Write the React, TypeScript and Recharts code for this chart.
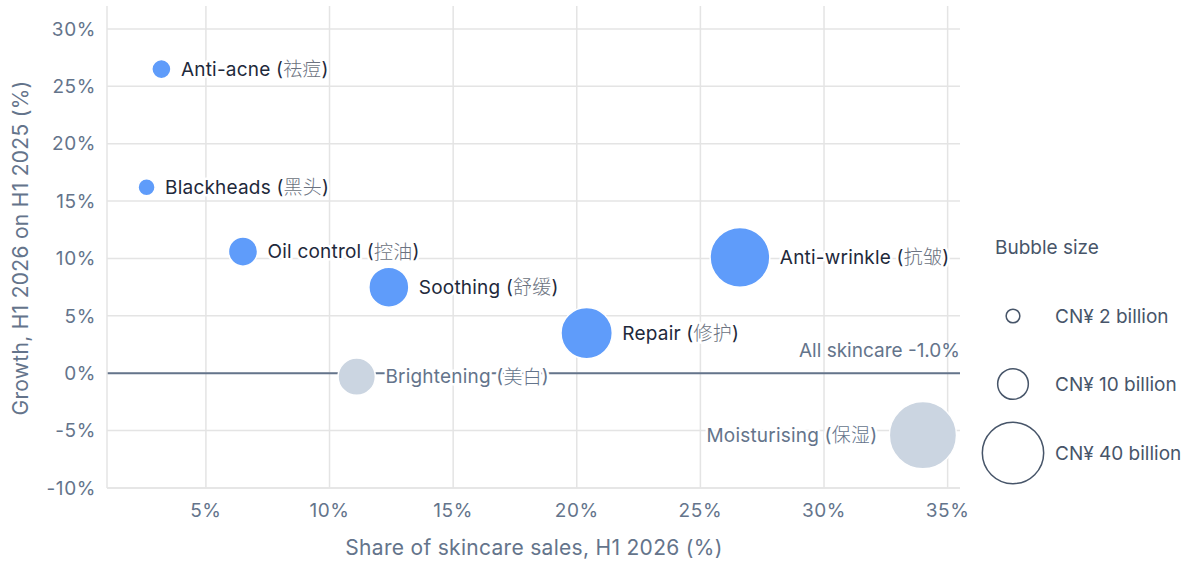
import React from 'react';
import {
  ScatterChart,
  Scatter,
  XAxis,
  YAxis,
  ZAxis,
  CartesianGrid,
  ReferenceLine,
} from 'recharts';

// ---- data ----
const categories = ['Anti-acne', 'Blackheads', 'Oil control', 'Soothing', 'Repair', 'Anti-wrinkle', 'Brightening', 'Moisturising'];
const chineseNames = ['祛痘', '黑头', '控油', '舒缓', '修护', '抗皱', '美白', '保湿'];
const shareH1_2026 = [3.2, 2.6, 6.5, 12.4, 20.4, 26.6, 11.1, 34.0];
const growthVsH1_2025 = [26.5, 16.2, 10.6, 7.5, 3.5, 10.1, -0.3, -5.4];
const salesBillionCNY = [3.9, 3.1, 9.0, 17.0, 28.0, 38.0, 14.8, 48.0];
const highlighted = [true, true, true, true, true, true, false, false];
const labelOnLeft = [false, false, false, false, false, false, false, true];

const xTicks = [5, 10, 15, 20, 25, 30, 35];
const yTicks = [-10, -5, 0, 5, 10, 15, 20, 25, 30];
const allSkincareLabel = 'All skincare -1.0%';
const allSkincareLineY = 0;
const legendValues = [2, 10, 40];
const legendLabels = ['CN¥ 2 billion', 'CN¥ 10 billion', 'CN¥ 40 billion'];

// ---- style ----
const FONT = "Inter, 'Noto Sans CJK SC', 'Noto Sans', sans-serif";
const K = 4.85; // px radius per sqrt(billion)
const Z_MAX = 60;
const BLUE = '#5f9cfa';
const GREY = '#cbd5e1';
const DARK = '#1e293b';
const MUTED = '#64748b';
const CJK_GREY = '#6b7280';
const GRID = '#e4e4e4';

const data = categories.map((name, i) => ({
  name,
  cn: chineseNames[i],
  x: shareH1_2026[i],
  y: growthVsH1_2025[i],
  z: salesBillionCNY[i],
  hi: highlighted[i],
  left: labelOnLeft[i],
}));

const BubbleShape = (props: any) => {
  const { cx, cy, size, payload } = props;
  if (cx == null || cy == null) return null;
  const r = Math.sqrt(Math.max(size, 0) / Math.PI);
  const color = payload.hi ? BLUE : GREY;
  const textColor = payload.hi ? DARK : MUTED;
  const tx = payload.left ? cx - r - 12 : cx + r + 10;
  return (
    <g>
      <circle cx={cx} cy={cy} r={r} fill={color} stroke="#ffffff" strokeWidth={1.5} />
      <text
        x={tx}
        y={cy}
        textAnchor={payload.left ? 'end' : 'start'}
        dominantBaseline="central"
        fontFamily={FONT}
        fontSize={19}
        letterSpacing={0.2}
        fill={textColor}
        stroke="#ffffff"
        strokeWidth={5}
        strokeLinejoin="round"
        paintOrder="stroke"
      >
        {`${payload.name} (`}
        <tspan fill={payload.hi ? CJK_GREY : MUTED} fontWeight={300}>{payload.cn}</tspan>
        {')'}
      </text>
    </g>
  );
};

const RefLabel = (props: any) => {
  const vb = props.viewBox || {};
  const x = (vb.x || 0) + (vb.width || 0);
  const y = vb.y || 0;
  return (
    <text
      x={x}
      y={y - 23}
      textAnchor="end"
      dominantBaseline="central"
      fontFamily={FONT}
      fontSize={19}
      fill={MUTED}
    >
      {allSkincareLabel}
    </text>
  );
};

const tickStyle = { fill: MUTED, fontSize: 19, fontFamily: FONT, letterSpacing: 0.6 };

const scaleOf = (axis: any) => {
  if (!axis) return null;
  const s = axis.scale;
  if (typeof s === 'function') return s;
  if (s && typeof s.map === 'function') return (v: number) => s.map(v);
  return null;
};

const vGen = (props: any) => {
  const s = scaleOf(props && props.xAxis);
  return s ? xTicks.map((t) => s(t)) : [];
};
const hGen = (props: any) => {
  const s = scaleOf(props && props.yAxis);
  return s ? yTicks.map((t) => s(t)) : [];
};

export default function App() {
  return (
    <div style={{ position: 'absolute', left: 0, top: 0, width: 1200, height: 565, background: '#fff' }}>
      <ScatterChart
        width={1200}
        height={565}
        margin={{ top: 6, right: 240, bottom: 0, left: 0 }}
        style={{ fontFamily: FONT }}
      >
        <CartesianGrid
          stroke={GRID}
          strokeWidth={1.5}
          verticalCoordinatesGenerator={vGen}
          horizontalCoordinatesGenerator={hGen}
        />
        <XAxis
          type="number"
          dataKey="x"
          domain={[1, 35.5]}
          ticks={xTicks}
          tickFormatter={(v: number) => `${v}%`}
          height={77}
          tickLine={false}
          axisLine={{ stroke: GRID, strokeWidth: 1.5 }}
          tickMargin={10}
          tick={tickStyle}
          allowDataOverflow
        />
        <YAxis
          type="number"
          dataKey="y"
          domain={[-10, 32]}
          ticks={yTicks}
          tickFormatter={(v: number) => `${v}%`}
          width={107}
          tickLine={false}
          axisLine={{ stroke: GRID, strokeWidth: 1.5 }}
          tickMargin={5}
          tick={tickStyle}
          allowDataOverflow
        />
        <ZAxis type="number" dataKey="z" domain={[0, Z_MAX]} range={[0, Math.PI * K * K * Z_MAX]} />
        <ReferenceLine y={allSkincareLineY} stroke={MUTED} strokeWidth={2} label={<RefLabel />} />
        <Scatter data={data} shape={<BubbleShape />} isAnimationActive={false} />
      </ScatterChart>
      <svg
        width={1200}
        height={565}
        style={{ position: 'absolute', left: 0, top: 0, pointerEvents: 'none' }}
      >
        <text
          x={534}
          y={547}
          textAnchor="middle"
          dominantBaseline="central"
          fontFamily={FONT}
          fontSize={21}
          letterSpacing={0.3}
          fill={MUTED}
        >
          Share of skincare sales, H1 2026 (%)
        </text>
        <text
          transform="translate(20,248) rotate(-90)"
          textAnchor="middle"
          dominantBaseline="central"
          fontFamily={FONT}
          fontSize={21}
          letterSpacing={0.3}
          fill={MUTED}
        >
          Growth, H1 2026 on H1 2025 (%)
        </text>
        <text x={995} y={247} dominantBaseline="central" fontFamily={FONT} fontSize={19} fill="#475569">
          Bubble size
        </text>
        {legendValues.map((v, i) => {
          const cy = [316, 384, 453][i];
          return (
            <g key={v}>
              <circle cx={1013} cy={cy} r={K * Math.sqrt(v)} fill="none" stroke="#475569" strokeWidth={1.5} />
              <text x={1055} y={cy} dominantBaseline="central" fontFamily={FONT} fontSize={19} fill="#475569">
                {legendLabels[i]}
              </text>
            </g>
          );
        })}
      </svg>
    </div>
  );
}
